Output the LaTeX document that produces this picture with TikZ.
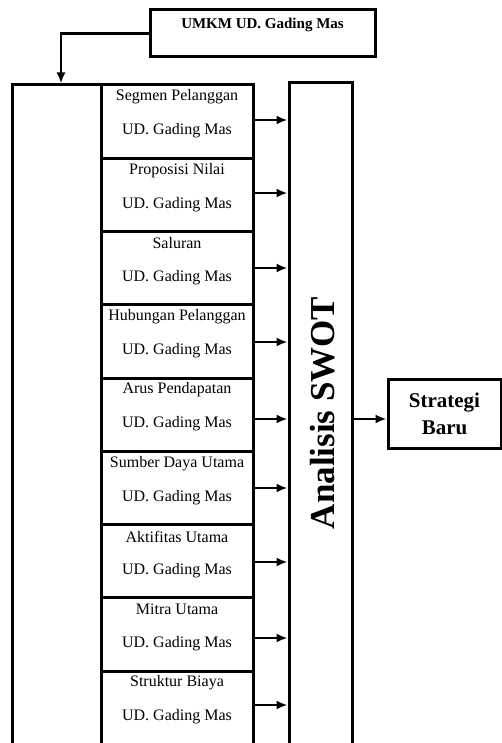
\documentclass[tikz,border=0pt]{standalone}
\usepackage{fontspec}
\setmainfont{Liberation Serif}
\usepackage{tikz}
\usetikzlibrary{arrows.meta}

\begin{document}
\begin{tikzpicture}[x=1pt,y=-1pt]
\tikzset{>={Latex[width=9pt,length=11pt]}}
\tikzstyle{box} =[draw, rectangle, line width=3pt, inner sep=0pt]
\tikzstyle{part} =[box, minimum width=152pt, minimum height=73.25pt]
\tikzstyle{txt} =[anchor=center, inner sep=0pt, font=\fontsize{16}{19}\selectfont]
\tikzstyle{flow} =[->, line width=2.5pt]

\clip (0,0) rectangle (502,743);

\node[box, minimum width=225pt, minimum height=47pt, label={[txt, yshift=-16.5pt, font=\fontsize{15}{18}\selectfont\bfseries]north:UMKM UD. Gading Mas}] (umkm) at (262.5,33.5) {};

\node[box, minimum width=241pt, minimum height=661pt] (bmc) at (132.5,415.5) {};
\coordinate (entry) at ([xshift=50.5pt]bmc.north west);

\node[part, label={[txt,yshift=-13.5pt]north:Segmen Pelanggan}, label={[txt,yshift=-47.5pt]north:UD. Gading Mas}] (seg) at (177,121.625) {};
\node[part, label={[txt,yshift=-13.5pt]north:Proposisi Nilai}, label={[txt,yshift=-47.5pt]north:UD. Gading Mas}] (nilai) at (177,194.875) {};
\node[part, label={[txt,yshift=-13.5pt]north:Saluran}, label={[txt,yshift=-47.5pt]north:UD. Gading Mas}] (saluran) at (177,268.125) {};
\node[part, label={[txt,yshift=-13.5pt]north:Hubungan Pelanggan}, label={[txt,yshift=-47.5pt]north:UD. Gading Mas}] (hubungan) at (177,341.375) {};
\node[part, label={[txt,yshift=-13.5pt]north:Arus Pendapatan}, label={[txt,yshift=-47.5pt]north:UD. Gading Mas}] (arus) at (177,414.625) {};
\node[part, label={[txt,yshift=-13.5pt]north:Sumber Daya Utama}, label={[txt,yshift=-47.5pt]north:UD. Gading Mas}] (sumber) at (177,487.875) {};
\node[part, label={[txt,yshift=-13.5pt]north:Aktifitas Utama}, label={[txt,yshift=-47.5pt]north:UD. Gading Mas}] (aktif) at (177,561.125) {};
\node[part, label={[txt,yshift=-13.5pt]north:Mitra Utama}, label={[txt,yshift=-47.5pt]north:UD. Gading Mas}] (mitra) at (177,634.375) {};
\node[part, minimum height=76pt, label={[txt,yshift=-13.5pt]north:Struktur Biaya}, label={[txt,yshift=-47.5pt]north:UD. Gading Mas}] (biaya) at (177,709) {};

\node[box, minimum width=63pt, minimum height=663pt, label={[anchor=center, xshift=2pt, yshift=1.5pt, rotate=90, font=\fontsize{35}{40}\selectfont\bfseries]center:Analisis SWOT}] (swot) at (320.5,414.5) {};

\node[box, minimum width=113pt, minimum height=69pt, align=center, font=\fontsize{21}{27}\selectfont\bfseries] (strat) at (444.5,413.5) {Strategi\\Baru};

\draw [flow] (umkm.west) -| (entry);

\draw [flow] ([yshift=-36.5pt]seg.north east) -- ([yshift=-36.5pt]seg.north east -| swot.west);
\draw [flow] ([yshift=-36.25pt]nilai.north east) -- ([yshift=-36.25pt]nilai.north east -| swot.west);
\draw [flow] ([yshift=-38pt]saluran.north east) -- ([yshift=-38pt]saluran.north east -| swot.west);
\draw [flow] ([yshift=-38.75pt]hubungan.north east) -- ([yshift=-38.75pt]hubungan.north east -| swot.west);
\draw [flow] ([yshift=-42.5pt]arus.north east) -- ([yshift=-42.5pt]arus.north east -| swot.west);
\draw [flow] ([yshift=-38.25pt]sumber.north east) -- ([yshift=-38.25pt]sumber.north east -| swot.west);
\draw [flow] ([yshift=-39pt]aktif.north east) -- ([yshift=-39pt]aktif.north east -| swot.west);
\draw [flow] ([yshift=-41.75pt]mitra.north east) -- ([yshift=-41.75pt]mitra.north east -| swot.west);
\draw [flow] ([yshift=-35.5pt]biaya.north east) -- ([yshift=-35.5pt]biaya.north east -| swot.west);

\draw [flow] ([yshift=-4.5pt]swot.east) -- ([yshift=-4.5pt]swot.east -| strat.west);
\end{tikzpicture}
\end{document}
